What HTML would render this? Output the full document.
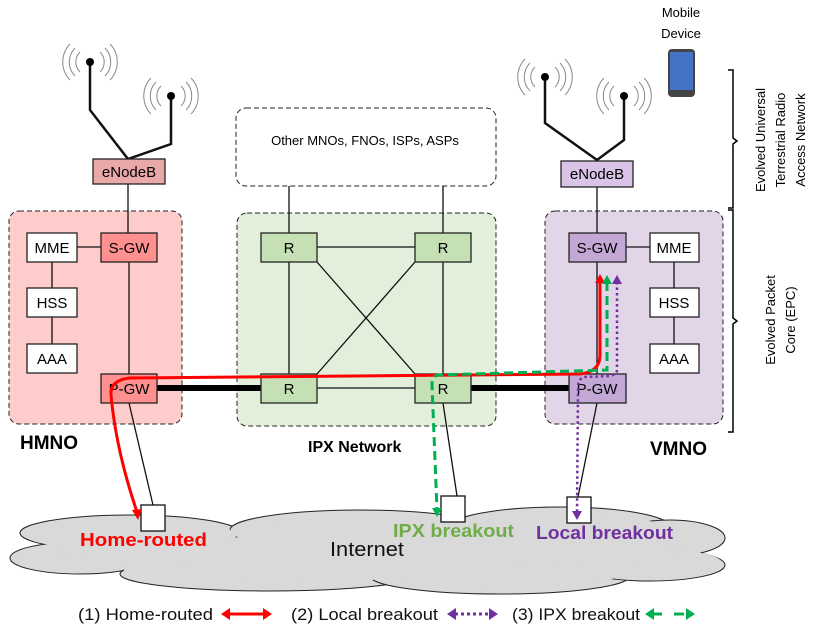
<!DOCTYPE html>
<html><head><meta charset="utf-8"><style>
html,body{margin:0;padding:0;background:#fff}
svg{display:block}
text{font-family:"Liberation Sans",sans-serif}
</style></head><body>
<svg width="814" height="633" viewBox="0 0 814 633" xmlns="http://www.w3.org/2000/svg">
<g fill="none" stroke="#888" stroke-width="1">
<path d="M80,52 a14,14 0 0 0 0,20 M75,48 a20,20 0 0 0 0,28 M70,44 a26,26 0 0 0 0,36 M100,52 a14,14 0 0 1 0,20 M105,48 a20,20 0 0 1 0,28 M110,44 a26,26 0 0 1 0,36"/>
<path d="M161,86 a14,14 0 0 0 0,20 M156,82 a20,20 0 0 0 0,28 M151,78 a26,26 0 0 0 0,36 M181,86 a14,14 0 0 1 0,20 M186,82 a20,20 0 0 1 0,28 M191,78 a26,26 0 0 1 0,36"/>
<path d="M535,67 a14,14 0 0 0 0,20 M530,63 a20,20 0 0 0 0,28 M525,59 a26,26 0 0 0 0,36 M555,67 a14,14 0 0 1 0,20 M560,63 a20,20 0 0 1 0,28 M565,59 a26,26 0 0 1 0,36"/>
<path d="M614,86 a14,14 0 0 0 0,20 M609,82 a20,20 0 0 0 0,28 M604,78 a26,26 0 0 0 0,36 M634,86 a14,14 0 0 1 0,20 M639,82 a20,20 0 0 1 0,28 M644,78 a26,26 0 0 1 0,36"/>
</g>
<g fill="none" stroke="#111" stroke-width="2.5">
<path d="M90,62 V110 L128,159 L171,144 V96"/>
<path d="M545,77 V123 L597,160 L624,140 V96"/>
</g>
<g fill="#000"><circle cx="90" cy="62" r="4"/><circle cx="171" cy="96" r="4"/><circle cx="545" cy="77" r="4"/><circle cx="624" cy="96" r="4"/></g>
<text x="681" y="17" font-size="13" text-anchor="middle">Mobile</text>
<text x="681" y="38" font-size="13" text-anchor="middle">Device</text>
<rect x="668" y="49" width="27" height="48" rx="4" fill="#444"/>
<rect x="670" y="52" width="23" height="38" fill="#4472c4"/>
<path d="M728,70 h5 v68 l4,3 l-4,3 v64 h-5" fill="none" stroke="#000" stroke-width="1.5"/>
<path d="M728,210 h5 v108 l4,3 l-4,3 v108 h-5" fill="none" stroke="#000" stroke-width="1.5"/>
<g font-size="13" text-anchor="middle">
<text transform="translate(765,140) rotate(-90)">Evolved Universal</text>
<text transform="translate(785,140) rotate(-90)">Terrestrial Radio</text>
<text transform="translate(805,140) rotate(-90)">Access Network</text>
<text transform="translate(775,320) rotate(-90)">Evolved Packet</text>
<text transform="translate(795,320) rotate(-90)">Core (EPC)</text>
</g>
<rect x="9" y="211" width="173" height="213" rx="10" fill="#ffcccc" stroke="#222" stroke-dasharray="5,3"/>
<rect x="237" y="213" width="259" height="213" rx="10" fill="#e2efda" stroke="#222" stroke-dasharray="5,3"/>
<rect x="545" y="211" width="178" height="213" rx="10" fill="#e1d5e7" stroke="#222" stroke-dasharray="5,3"/>
<rect x="236" y="108" width="260" height="78" rx="10" fill="#fff" stroke="#222" stroke-dasharray="5,3"/>
<text x="365" y="145" font-size="13" text-anchor="middle">Other MNOs, FNOs, ISPs, ASPs</text>
<g stroke="#111" stroke-width="1.3" fill="none">
<path d="M128,184 V233 M77,247 H101 M52,262 V288 M52,317 V344 M129,262 V374"/>
<path d="M597,187 V233 M626,247 H650 M674,262 V288 M674,317 V344 M597,262 V374"/>
<path d="M289,186 V233 M443,186 V233 M317,247 H415 M289,262 V374 M443,262 V374 M317,262 L415,374 M317,374 L415,262 M317,388 H415"/>
<path d="M129,403 L153,505 M443,403 L457,496 M597,403 L578,497"/>
</g>
<g stroke="#000" stroke-width="6"><path d="M157,388 H261 M471,388 H569"/></g>
<g stroke="#222" stroke-width="1.3">
<rect x="93" y="159" width="72" height="25" fill="#eaa9a9"/>
<rect x="561" y="161" width="72" height="26" fill="#d9c3e6"/>
<rect x="27" y="233" width="50" height="29" fill="#fff"/>
<rect x="27" y="288" width="50" height="29" fill="#fff"/>
<rect x="27" y="344" width="50" height="29" fill="#fff"/>
<rect x="101" y="233" width="56" height="29" fill="#ff9090"/>
<rect x="101" y="374" width="56" height="29" fill="#ff9090"/>
<rect x="650" y="233" width="49" height="29" fill="#fff"/>
<rect x="650" y="288" width="49" height="29" fill="#fff"/>
<rect x="650" y="344" width="49" height="29" fill="#fff"/>
<rect x="569" y="233" width="57" height="29" fill="#c3a8d6"/>
<rect x="569" y="374" width="57" height="29" fill="#c3a8d6"/>
<rect x="261" y="233" width="56" height="29" fill="#c5e0b4"/>
<rect x="415" y="233" width="56" height="29" fill="#c5e0b4"/>
<rect x="261" y="374" width="56" height="29" fill="#c5e0b4"/>
<rect x="415" y="374" width="56" height="29" fill="#c5e0b4"/>
</g>
<g font-size="15" text-anchor="middle">
<text x="129" y="177">eNodeB</text><text x="597" y="179">eNodeB</text>
<text x="52" y="253">MME</text><text x="52" y="308">HSS</text><text x="52" y="364">AAA</text>
<text x="129" y="253">S-GW</text><text x="129" y="394">P-GW</text>
<text x="674" y="253">MME</text><text x="674" y="308">HSS</text><text x="674" y="364">AAA</text>
<text x="597" y="253">S-GW</text><text x="597" y="394">P-GW</text>
<text x="289" y="253">R</text><text x="443" y="253">R</text><text x="289" y="394">R</text><text x="443" y="394">R</text>
</g>
<g font-size="19" font-weight="bold">
<text x="20" y="449">HMNO</text><text x="308" y="452" font-size="16">IPX Network</text><text x="650" y="455">VMNO</text>
</g>
<g fill="#d9d9d9" stroke="#222" stroke-width="1">
<ellipse cx="130" cy="533" rx="110" ry="18"/>
<ellipse cx="80" cy="558" rx="70" ry="16"/>
<ellipse cx="270" cy="574" rx="150" ry="17"/>
<ellipse cx="360" cy="530" rx="130" ry="20"/>
<ellipse cx="500" cy="576" rx="130" ry="18"/>
<ellipse cx="560" cy="527" rx="110" ry="20"/>
<ellipse cx="670" cy="538" rx="55" ry="18"/>
<ellipse cx="650" cy="565" rx="75" ry="16"/>
</g>
<g fill="#d9d9d9">
<ellipse cx="130" cy="535" rx="106" ry="15"/><ellipse cx="80" cy="556" rx="66" ry="13"/><ellipse cx="270" cy="570" rx="146" ry="14"/><ellipse cx="360" cy="533" rx="126" ry="17"/><ellipse cx="500" cy="572" rx="126" ry="15"/><ellipse cx="560" cy="530" rx="106" ry="17"/><ellipse cx="670" cy="540" rx="51" ry="15"/><ellipse cx="650" cy="562" rx="71" ry="13"/><ellipse cx="370" cy="552" rx="330" ry="16"/>
</g>
<g fill="#fff" stroke="#111" stroke-width="1.3">
<rect x="141" y="505" width="24" height="26"/><rect x="441" y="496" width="24" height="26"/><rect x="567" y="497" width="24" height="26"/>
</g>
<text x="330" y="556" font-size="20" fill="#111" textLength="74" lengthAdjust="spacingAndGlyphs">Internet</text>
<g font-size="18" font-weight="bold">
<text x="80" y="546" fill="#f00" textLength="127" lengthAdjust="spacingAndGlyphs">Home-routed</text>
<text x="393" y="537" fill="#70ad47" textLength="121" lengthAdjust="spacingAndGlyphs">IPX breakout</text>
<text x="536" y="539" fill="#7030a0" textLength="137" lengthAdjust="spacingAndGlyphs">Local breakout</text>
</g>
<path d="M600,280 V355 Q600,372 580,374 L130,378 Q110,380 111,395 Q116,450 137,512" fill="none" stroke="#f00" stroke-width="3"/>
<path d="M595,283 L600,274 L605,283z M132,510 L138,520 L142,509z" fill="#f00"/>
<path d="M607,282 V370 L438,375 Q432,376 432,385 L437,510" fill="none" stroke="#00b050" stroke-width="3" stroke-dasharray="9,5"/>
<path d="M602,284 L607,275 L612,284z M432,508 L437,517 L442,508z" fill="#00b050"/>
<path d="M617,282 V370 Q617,374 610,376 L585,377 Q578,378 578,388 L577,513" fill="none" stroke="#7030a0" stroke-width="2.5" stroke-dasharray="2.5,3"/>
<path d="M612,284 L617,275 L622,284z M572,511 L577,520 L582,511z" fill="#7030a0"/>
<g font-size="17" fill="#111">
<text x="78" y="620" textLength="135" lengthAdjust="spacingAndGlyphs">(1) Home-routed</text>
<text x="291" y="620" textLength="147" lengthAdjust="spacingAndGlyphs">(2) Local breakout</text>
<text x="512" y="620" textLength="128" lengthAdjust="spacingAndGlyphs">(3) IPX breakout</text>
</g>
<path d="M228,614 H265" stroke="#f00" stroke-width="3"/><path d="M230,608 L221,614 L230,620z M263,608 L272,614 L263,620z" fill="#f00"/>
<path d="M455,614 H490" stroke="#7030a0" stroke-width="3" stroke-dasharray="3,3"/><path d="M456,608 L447,614 L456,620z M489,608 L498,614 L489,620z" fill="#7030a0"/>
<path d="M652,614 H688" stroke="#00b050" stroke-width="3" stroke-dasharray="10,12"/><path d="M654,608 L645,614 L654,620z M686,608 L695,614 L686,620z" fill="#00b050"/>
</svg>
</body></html>
